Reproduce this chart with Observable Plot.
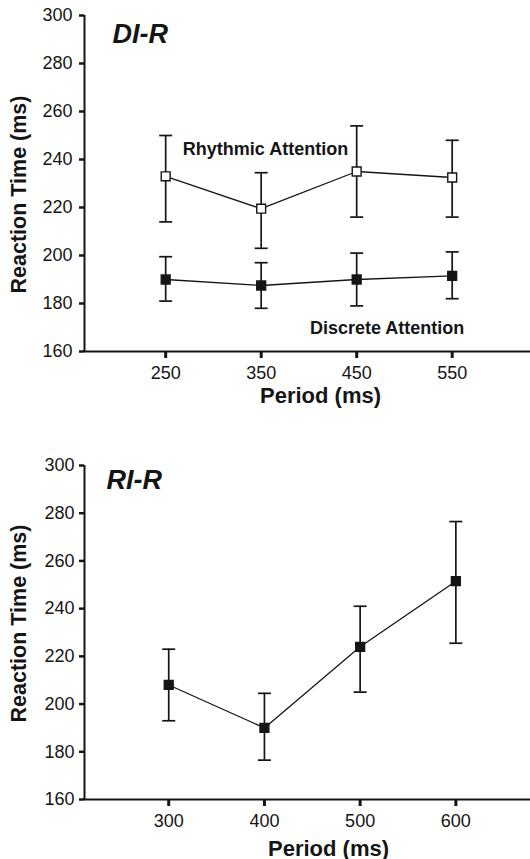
<!DOCTYPE html>
<html>
<head>
<meta charset="utf-8">
<script src="https://cdn.jsdelivr.net/npm/d3@7"></script>
<script src="https://cdn.jsdelivr.net/npm/@observablehq/plot@0.6"></script>
<style>
  body { margin: 0; background: #fff; }
  #chart svg { display: block; }
</style>
</head>
<body>
<div id="chart"></div>
<script>
// DI-R condition: reaction time by period, two attention types
const diPeriods = [250, 350, 450, 550];
const rhythmicMean = [233, 219.5, 235, 232.5];
const rhythmicHigh = [250, 234.5, 254, 248];
const rhythmicLow = [214, 203, 216, 216];
const discreteMean = [190, 187.5, 190, 191.5];
const discreteHigh = [199.5, 197, 201, 201.5];
const discreteLow = [181, 178, 179, 182];

// RI-R condition
const riPeriods = [300, 400, 500, 600];
const riMean = [208, 190, 224, 251.5];
const riHigh = [223, 204.5, 241, 276.5];
const riLow = [193, 176.5, 205, 225.5];

const yTicks = [160, 180, 200, 220, 240, 260, 280, 300];
const yDomain = [160, 300];
const diDomain = [165, 632];
const riDomain = [212, 678];

// series labels placed in data space
const diLabels = [
  {text: "Rhythmic Attention", period: 268, value: 242},
  {text: "Discrete Attention", period: 401, value: 167.5}
];

const font = "'Liberation Sans', Arial, Helvetica, sans-serif";
const ink = "#151515";

// horizontal bar used as the error-bar cap
const capSymbol = {
  draw(context, size) {
    const r = Math.sqrt(size / Math.PI);
    context.moveTo(-r, 0);
    context.lineTo(r, 0);
  }
};

function rows(periods, mean, high, low, series) {
  return periods.map((p, i) => ({period: p, mean: mean[i], hi: high[i], lo: low[i], series}));
}

const diRows = [
  ...rows(diPeriods, rhythmicMean, rhythmicHigh, rhythmicLow, "Rhythmic"),
  ...rows(diPeriods, discreteMean, discreteHigh, discreteLow, "Discrete")
];
const riRows = rows(riPeriods, riMean, riHigh, riLow, "RI");

function panel({data, periods, xDomain, title, titleDx, titleDy, height, marginTop, marginBottom,
                periodDx, periodDy, yTickPadding, labelDy, labels, fillFor}) {
  return Plot.plot({
    width: 530,
    height,
    marginLeft: 84,
    marginRight: 0,
    marginTop,
    marginBottom,
    x: {domain: xDomain},
    y: {domain: yDomain},
    style: {fontFamily: font, color: ink, background: "#fff", overflow: "visible"},
    marks: [
      Plot.ruleX([xDomain[0]], {stroke: ink, strokeWidth: 2}),
      Plot.ruleY([yDomain[0]], {stroke: ink, strokeWidth: 2}),
      Plot.axisY({ticks: yTicks, tickSize: 5, tickPadding: yTickPadding, strokeWidth: 2.5,
                  fontSize: 18, label: null, anchor: "left"}),
      Plot.axisX({ticks: periods, tickSize: 7, tickPadding: 8, strokeWidth: 3,
                  fontSize: 18, label: null, anchor: "bottom"}),
      Plot.line(data, {x: "period", y: "mean", z: "series", stroke: ink, strokeWidth: 1.3}),
      Plot.ruleX(data, {x: "period", y1: "lo", y2: "hi", stroke: ink, strokeWidth: 1.7}),
      Plot.dot(data, {x: "period", y: "hi", symbol: capSymbol, r: 6.5, fill: "none", stroke: ink, strokeWidth: 1.7}),
      Plot.dot(data, {x: "period", y: "lo", symbol: capSymbol, r: 6.5, fill: "none", stroke: ink, strokeWidth: 1.7}),
      Plot.dot(data, {x: "period", y: "mean", symbol: "square", r: 5,
                      fill: d => fillFor(d.series), stroke: ink, strokeWidth: 1.4}),
      Plot.text(labels, {x: "period", y: "value", text: "text", textAnchor: "start", lineAnchor: "bottom",
                         fontSize: 18, fontWeight: "bold", fill: ink}),
      Plot.text([title], {frameAnchor: "top-left", dx: titleDx, dy: titleDy, lineAnchor: "top",
                          textAnchor: "start", fontSize: 27, fontWeight: "bold", fontStyle: "italic", fill: ink}),
      Plot.text(["Period (ms)"], {frameAnchor: "bottom", dx: periodDx, dy: periodDy, lineAnchor: "bottom",
                                  textAnchor: "middle", fontSize: 22, fontWeight: "bold", fill: ink}),
      Plot.text(["Reaction Time (ms)"], {frameAnchor: "left", dx: -59, dy: labelDy, rotate: -90,
                                         textAnchor: "middle", lineAnchor: "bottom",
                                         fontSize: 21.5, fontWeight: "bold", fill: ink})
    ]
  });
}

const chart = document.getElementById("chart");

chart.append(panel({
  data: diRows, periods: diPeriods, xDomain: diDomain, title: "DI-R",
  titleDx: 28, titleDy: 8, height: 420, marginTop: 15, marginBottom: 69,
  periodDx: 13, periodDy: 51, yTickPadding: 7, labelDy: 11, labels: diLabels,
  fillFor: s => s === "Rhythmic" ? "#fff" : ink
}));

chart.append(panel({
  data: riRows, periods: riPeriods, xDomain: riDomain, title: "RI-R",
  titleDx: 22, titleDy: 4, height: 439, marginTop: 45, marginBottom: 60,
  periodDx: 21, periodDy: 56, yTickPadding: 5, labelDy: -9, labels: [],
  fillFor: () => ink
}));
</script>
</body>
</html>
